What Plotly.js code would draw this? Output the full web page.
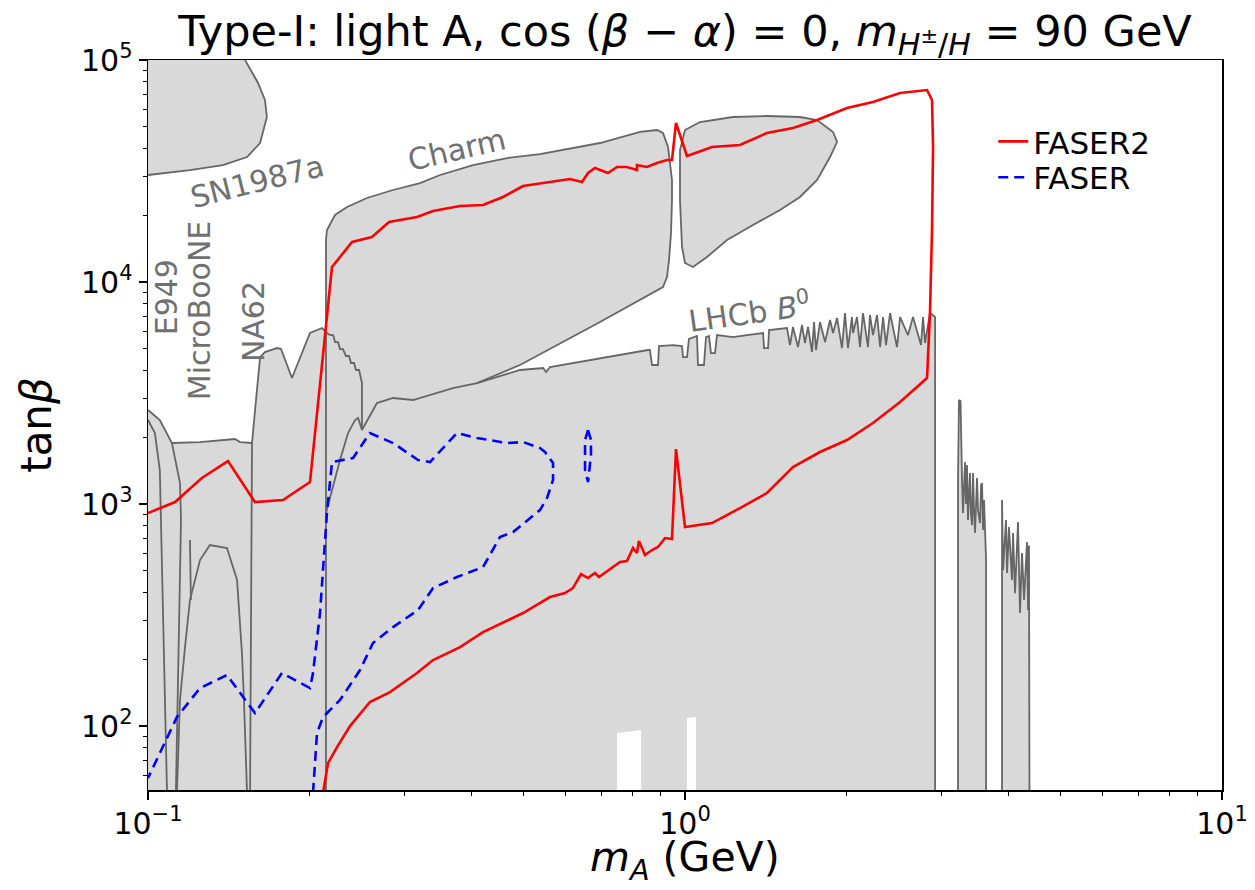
<!DOCTYPE html>
<html>
<head>
<meta charset="utf-8">
<script src="https://cdn.plot.ly/plotly-3.0.1.min.js"></script>
<style>
  html, body { margin: 0; padding: 0; background: #fff; }
  #chart { width: 1255px; height: 890px; }
</style>
</head>
<body>
<div id="chart"></div>
<script>
// Excluded regions and FASER reach in the (m_A, tan beta) plane.
// Every point is [m_A in GeV, tan beta].

const snEdge = [[0.1,30340],[0.1197,31950],[0.1379,33650],[0.1529,36560],[0.1617,42280],[0.1665,55360],[0.1651,66030],[0.1603,78780],[0.1516,100000]];

const charmEdge = [[0.2145,50],[0.2145,15460],[0.2154,17150],[0.2230,20040],[0.2348,21770],[0.2557,23900],[0.2860,25970],[0.3210,27920],[0.3499,30340],[0.4030,33650],[0.4662,36180],[0.5370,37710],[0.6946,42280],[0.8247,47400],[0.8869,48370],[0.9099,46910],[0.9298,40560],[0.9458,28810],[0.9458,23410],[0.9418,16620],[0.9338,12570],[0.9258,10530],[0.9099,9495],[0.6946,6602],[0.4929,4228],[0.4100,3508]];

const charmLobe2 = [[1.0,48370],[1.0664,52570],[1.2287,55360],[1.421,55940],[1.6374,55360],[1.762,53660],[1.8868,47400],[1.9194,42720],[1.8625,36560],[1.762,28810],[1.6374,24150],[1.503,21100],[1.3383,18060],[1.1975,15460],[1.0988,12960],[1.0349,11684],[1.0,12180],[0.9872,14380],[0.9788,23410],[0.9788,39310],[1.0,48370]];

const na62Edge = [[0.1549,50],[0.1562,1883],[0.1589,2942],[0.1617,4593],[0.1651,4838],[0.1739,5043],[0.1769,4991],[0.1854,3694],[0.2003,5892],[0.2109,6205]];

const na62Stairs = [[0.2109,6205],[0.2154,5892],[0.2183,5771],[0.2212,5771],[0.2230,5366],[0.2259,5366],[0.2278,4991],[0.2307,4991],[0.2337,4642],[0.2368,4642],[0.2388,4317],[0.2419,4317],[0.2440,4015],[0.2472,4015],[0.2493,3733],[0.2503,3508],[0.2503,2154]];

const lhcbB0 = [[0.2145,911],[0.2201,1156],[0.2278,1579],[0.2358,2089],[0.2430,2390],[0.2461,2440],[0.2503,2154],[0.2669,2851],[0.2860,3003],[0.3115,2942],[0.3351,3097],[0.3698,3331],[0.4100,3508],[0.4523,3772],[0.4929,4015],[0.5442,4098],[0.5512,3932],[0.5606,4141],[0.6946,4546],[0.8531,4941],[0.8604,4941],[0.8681,4228],[0.8907,4228],[0.8945,5148],[0.9498,5202],[0.9872,5148],[0.9915,4593],[1.0086,4593],[1.0172,5537],[1.0528,5711],[1.0573,4228],[1.0848,4228],[1.0942,5652],[1.1082,5711],[1.1178,4787],[1.1373,4787],[1.1471,5771],[1.2287,5652],[1.3047,5771],[1.3976,5892],[1.4036,5043],[1.4278,5043],[1.4339,6079],[1.5487,6205],[1.5687,5202],[1.589,6271],[1.6234,5095],[1.6515,6403],[1.6728,5311],[1.6946,6271],[1.7239,4838],[1.7388,6602],[1.7538,4941],[1.784,6602],[1.8231,5366],[1.8625,6744],[1.8868,5892],[1.9194,6884],[1.9604,5043],[1.9858,7251],[2.0115,5043],[2.0463,6956],[2.0551,5892],[2.0907,6956],[2.1178,5095],[2.1452,7251],[2.1917,5095],[2.2106,7102],[2.239,5771],[2.2787,7102],[2.3082,5095],[2.3381,6956],[2.3679,5202],[2.4089,7251],[2.4818,5095],[2.515,6956],[2.6018,5771],[2.6582,6956],[2.751,5202],[2.7747,6956],[2.7986,5311],[2.859,7251],[2.9221,6956],[2.9221,50]];

const e949Upper = [[0.1,2652],[0.1052,2391],[0.1108,1883]];
const e949Lower = [[0.1108,1883],[0.1147,1243],[0.1152,847],[0.1137,131],[0.1127,50]];
const e949Inner = [[0.1,2391],[0.103,2089],[0.1052,1423],[0.1085,50]];

const microbooneTop = [[0.1108,1883],[0.125,1902],[0.1452,1963],[0.1484,1902],[0.1562,1883]];
const microbooneArch = [[0.1132,50],[0.1147,131],[0.1172,226.9],[0.1197,369.5],[0.125,559.5],[0.1304,653.7],[0.1403,633.7],[0.1465,454.7],[0.1496,213.3],[0.1509,131],[0.1529,50]];
const microbooneSpike = [[0.1197,688.5],[0.1202,369.5]];

const rightBandA = [[3.224,50],[3.224,1283],[3.238,2942],[3.259,2910],[3.280,1283],[3.294,911],[3.322,1546],[3.337,1000],[3.351,1498],[3.365,847],[3.394,1379],[3.409,892],[3.424,804],[3.439,1379],[3.453,940],[3.468,740],[3.498,1310],[3.513,940],[3.543,821],[3.559,1218],[3.574,1243],[3.589,764],[3.605,1042],[3.620,740],[3.636,560],[3.636,50]];
const rightBandB = [[3.894,50],[3.894,1042],[3.911,504],[3.961,847],[3.978,489],[4.012,788],[4.064,455],[4.082,740],[4.117,397],[4.153,674],[4.170,830],[4.206,323],[4.242,602],[4.279,370],[4.334,674],[4.353,333],[4.371,650],[4.380,50]];

// white slots cut out of the bottom of the shaded band
const slotA = [[0.747,40],[0.747,93.0],[0.828,95.9],[0.828,40]];
const slotB = [[1.0086,40],[1.0086,108.6],[1.048,109.8],[1.048,40]];

const faser2 = [[0.1,911],[0.1123,1021],[0.126,1310],[0.1409,1562],[0.1582,1021],[0.1784,1042],[0.2003,1256],[0.2201,11684],[0.2399,15144],[0.2613,15950],[0.2811,18630],[0.3169,19630],[0.3395,20880],[0.3811,21990],[0.4207,22230],[0.4582,24150],[0.4993,27070],[0.5606,28210],[0.6107,29100],[0.6432,28210],[0.6598,30970],[0.6798,32620],[0.6946,31950],[0.7187,30970],[0.7472,32960],[0.7798,32960],[0.8138,31950],[0.8138,33650],[0.8494,32960],[0.8869,34360],[0.9258,35440],[0.9458,35440],[0.9621,52030],[1.0086,36940],[1.1226,40560],[1.2662,41410],[1.421,46910],[1.589,49400],[1.762,53660],[2.003,60770],[2.239,64690],[2.515,71020],[2.823,73250],[2.884,66030],[2.897,40560],[2.884,17150],[2.859,7251],[2.823,3694],[2.515,2881],[2.239,2317],[2.003,1943],[1.784,1715],[1.589,1468],[1.421,1121],[1.2662,959],[1.1226,821],[1.0,788],[0.9621,1769],[0.9458,695.5],[0.9179,702.8],[0.8907,640.3],[0.8681,620.7],[0.8424,589.3],[0.8209,681.3],[0.8138,601.6],[0.8001,633.7],[0.7798,553.7],[0.7569,548.0],[0.6916,469.1],[0.6798,488.9],[0.6598,464.2],[0.6404,483.8],[0.6184,418.3],[0.5978,397.2],[0.5606,381.1],[0.537,358.1],[0.4993,322.9],[0.4207,265.0],[0.3811,226.9],[0.3395,198.3],[0.3169,173.3],[0.2823,142.3],[0.259,128.3],[0.2378,100],[0.2249,80.4],[0.2164,68.1],[0.2118,50]];

const faser = [[0.2029,50],[0.2064,93.0],[0.2118,109.8],[0.2278,131.0],[0.2482,178.8],[0.2624,236.6],[0.2860,279.2],[0.3183,333.1],[0.3395,418.3],[0.3762,469.1],[0.4207,520.3],[0.4523,710.2],[0.4784,747.9],[0.5370,939.7],[0.5534,1064],[0.5679,1283],[0.5679,1530],[0.5487,1715],[0.5370,1787],[0.4993,1902],[0.4662,1883],[0.4100,1983],[0.3762,2089],[0.3351,1546],[0.3183,1579],[0.2860,1883],[0.2590,2089],[0.2409,1612],[0.2201,1546],[0.2154,911],[0.2091,322.9],[0.2029,173.3],[0.2003,148.3],[0.1776,173.3],[0.1582,114.4],[0.1403,169.7],[0.1250,148.3],[0.1132,109.8],[0.1,58.3]];
const faserIsland = [[0.6598,2154],[0.6682,1943],[0.6682,1662],[0.6640,1423],[0.6598,1256],[0.6514,1423],[0.6514,1662],[0.6514,1943],[0.6598,2154]];

const xTickVals = [0.1, 1, 10];
const xTickText = ['10<sup>−1</sup>', '10<sup>0</sup>', '10<sup>1</sup>'];
const xMinorVals = [0.2,0.3,0.4,0.5,0.6,0.7,0.8,0.9,2,3,4,5,6,7,8,9];
const yTickVals = [100, 1000, 10000, 100000];
const yTickText = ['10<sup>2</sup>', '10<sup>3</sup>', '10<sup>4</sup>', '10<sup>5</sup>'];
const yMinorVals = [60,70,80,90,200,300,400,500,600,700,800,900,2000,3000,4000,5000,6000,7000,8000,9000,20000,30000,40000,50000,60000,70000,80000,90000];

const FILL = '#d9d9d9';
const EDGE = '#666666';

const col = (arr, i) => arr.map(p => (p === null ? null : p[i]));

// Union of the lower shaded areas, traced along its upper boundary.
const lowerEnvelope = [[0.1, 50]].concat(
  e949Upper,
  microbooneTop.slice(1),
  na62Edge.slice(1),
  [[0.2145, 6079]],
  charmEdge.slice(1),
  lhcbB0.filter(p => p[0] > 0.42)
);
const snFill = snEdge.concat([[0.1, 100000]]);

const traces = [];

[lowerEnvelope, snFill, charmLobe2, rightBandA, rightBandB].forEach(poly => {
  traces.push({
    type: 'scatter', mode: 'lines', x: col(poly, 0), y: col(poly, 1),
    fill: 'toself', fillcolor: FILL, line: {width: 0, color: FILL},
    hoverinfo: 'skip', showlegend: false
  });
});

[slotA, slotB].forEach(poly => {
  traces.push({
    type: 'scatter', mode: 'lines', x: col(poly, 0), y: col(poly, 1),
    fill: 'toself', fillcolor: '#ffffff', line: {width: 0, color: '#ffffff'},
    hoverinfo: 'skip', showlegend: false
  });
});

[snEdge, charmEdge, charmLobe2, na62Edge.concat(na62Stairs.slice(1)), lhcbB0,
 e949Upper.concat(e949Lower.slice(1)), e949Inner, microbooneTop, microbooneArch,
 microbooneSpike, rightBandA, rightBandB].forEach(line => {
  traces.push({
    type: 'scatter', mode: 'lines', x: col(line, 0), y: col(line, 1),
    line: {color: EDGE, width: 1.8}, hoverinfo: 'skip', showlegend: false
  });
});

traces.push({
  type: 'scatter', mode: 'lines', name: 'FASER2', legend: 'legend',
  x: col(faser2, 0), y: col(faser2, 1),
  line: {color: '#ff0000', width: 2.6}, hoverinfo: 'skip'
});

const faserAll = faser.concat([null], faserIsland);
traces.push({
  type: 'scatter', mode: 'lines', name: 'FASER', legend: 'legend2',
  x: col(faserAll, 0), y: col(faserAll, 1), connectgaps: false,
  line: {color: '#0000ff', width: 2.6, dash: '10px,6px'}, hoverinfo: 'skip'
});

const labelFont = {family: 'DejaVu Sans', size: 30, color: '#707070'};
const label = (text, x, y, angle) => ({
  text: text, x: x, y: y, xref: 'paper', yref: 'paper',
  xanchor: 'center', yanchor: 'middle', textangle: angle,
  showarrow: false, font: labelFont
});

const axisCommon = {
  type: 'log', showgrid: false, zeroline: false, automargin: false,
  showline: true, linecolor: '#000', linewidth: 1.5, mirror: true,
  ticks: 'outside', ticklen: 8, tickwidth: 1.5, tickcolor: '#000',
  tickmode: 'array',
  tickfont: {family: 'DejaVu Sans', size: 30, color: '#000'}
};

const legendCommon = {
  x: 0.787, xanchor: 'left', yanchor: 'middle',
  bgcolor: 'rgba(0,0,0,0)', borderwidth: 0,
  font: {family: 'DejaVu Sans', size: 31, color: '#000'}
};

const layout = {
  width: 1255, height: 890,
  margin: {l: 148, r: 33, t: 60, b: 100},
  paper_bgcolor: '#ffffff', plot_bgcolor: '#ffffff',
  font: {family: 'DejaVu Sans', color: '#000'},
  title: {
    text: 'Type-I: light A, cos (<i>β</i> − <i>α</i>) = 0, <i>m</i><sub><i>H</i><sup>±</sup>/<i>H</i></sub> = 90 GeV',
    font: {family: 'DejaVu Sans', size: 43, color: '#000'},
    x: 0.5, xref: 'paper', xanchor: 'center',
    y: 0.965, yref: 'container', yanchor: 'middle'
  },
  xaxis: Object.assign({}, axisCommon, {
    range: [-1, 1],
    tickvals: xTickVals, ticktext: xTickText, ticklabelstandoff: -2,
    minor: {tickvals: xMinorVals, ticks: 'outside', ticklen: 4, tickwidth: 1, tickcolor: '#000'}
  }),
  yaxis: Object.assign({}, axisCommon, {
    range: [1.712, 5],
    tickvals: yTickVals, ticktext: yTickText,
    minor: {tickvals: yMinorVals, ticks: 'outside', ticklen: 4, tickwidth: 1, tickcolor: '#000'},
    title: {text: 'tan<i>β</i>', font: {family: 'DejaVu Sans', size: 42, color: '#000'}, standoff: 16}
  }),
  showlegend: true,
  legend: Object.assign({}, legendCommon, {y: 0.888}),
  legend2: Object.assign({}, legendCommon, {y: 0.839}),
  annotations: [
    {
      text: '<i>m</i><sub><i>A</i></sub> (GeV)', x: 0.5, y: 0, xref: 'paper', yref: 'paper',
      xanchor: 'center', yanchor: 'bottom', yshift: -99, showarrow: false,
      font: {family: 'DejaVu Sans', size: 41, color: '#000'}
    },
    label('SN1987a', 0.1015, 0.834, -14),
    label('Charm', 0.2877, 0.878, -13),
    label('E949', 0.0168, 0.675, -90),
    label('MicroBooNE', 0.0475, 0.656, -90),
    label('NA62', 0.0978, 0.641, -90),
    label('LHCb <i>B</i><sup>0</sup>', 0.5605, 0.655, -8)
  ]
};

Plotly.newPlot('chart', traces, layout, {displayModeBar: false, staticPlot: true});
</script>
</body>
</html>
